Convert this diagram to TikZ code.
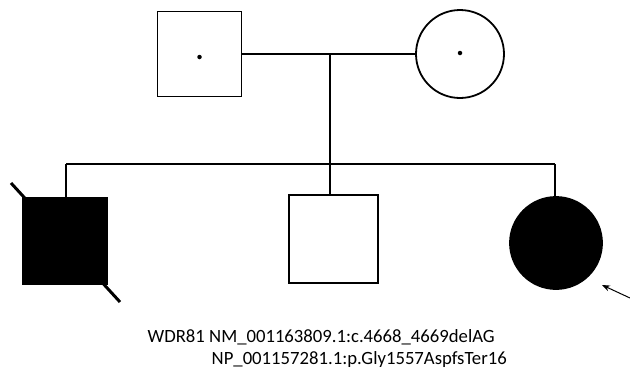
\documentclass[tikz,border=0pt]{standalone}
\usepackage{fontspec}
\setmainfont{Carlito}
\usetikzlibrary{arrows.meta}
\begin{document}
\begin{tikzpicture}[x=1pt,y=-1pt,
  line/.style={line width=1.8pt},
  male/.style={draw,line width=1.8pt,minimum width=84pt,minimum height=85pt,inner sep=0pt,outer sep=0pt},
  female/.style={draw,circle,line width=1.8pt,minimum size=88pt,inner sep=0pt,outer sep=0pt},
  carrier/.style={circle,fill=black,minimum size=4.5pt,inner sep=0pt},
  label/.style={anchor=base west,font=\fontsize{18.7}{22}\selectfont,inner sep=0pt}]
\useasboundingbox (0,0) rectangle (630,370);
\node[male] (f) at (199.5,54) {};
\node[carrier] (fd) at (199.5,57) {};
\node[female] (m) at (460,54) {};
\node[carrier] (md) at (460,53) {};
\coordinate (mid) at (330,54);
\draw[line] (f.east) -- (m.west);
\coordinate (sl) at (66,164);
\coordinate (sm) at (330,164);
\coordinate (sr) at (555,164);
\draw[line] (mid) -- (sm);
\draw[line] (sl) -- (sr);
\node[male,fill=black,minimum width=84pt,minimum height=86pt] (s1) at (65,241) {};
\node[male,minimum width=89pt,minimum height=88pt] (s2) at (333.5,239) {};
\node[female,fill=black,minimum size=92pt] (d) at (556,243) {};
\draw[line] (sl) -- (sl |- s1.north);
\draw[line] (sm) -- (sm |- s2.north);
\draw[line] (sr) -- (sr |- d.north);
\coordinate (x1) at (11,183);
\coordinate (x2) at (120,302);
\draw[line width=3pt] (x1) -- (x2);
\coordinate (at) at (630,298);
\coordinate (ah) at (602,285);
\draw[line width=1pt,-{Stealth[length=8pt,width=6pt]}] (at) -- (ah);
\node[label] (t1) at (147.5,342) {WDR81 NM\_001163809.1:c.4668\_4669delAG};
\node[label] (t2) at (211.5,364) {NP\_001157281.1:p.Gly1557AspfsTer16};
\end{tikzpicture}
\end{document}
